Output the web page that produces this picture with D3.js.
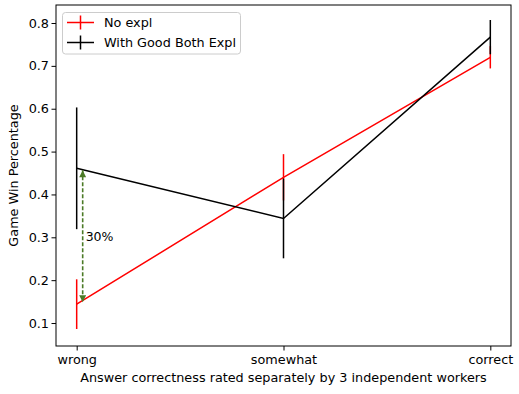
<!DOCTYPE html>
<html><head><meta charset="utf-8">
<script src="https://cdn.jsdelivr.net/npm/d3@7"></script>
<style>body{margin:0;background:#fff}svg{display:block}text{font-family:"DejaVu Sans",sans-serif}</style>
</head><body>
<script>
const categories = ["wrong", "somewhat", "correct"];
const seriesNames = ["No expl", "With Good Both Expl"];
const seriesColors = ["#ff0000", "#000000"];
const noExplValues = [0.144, 0.440, 0.720];
const noExplErrors = [0.058, 0.054, 0.026];
const goodExplValues = [0.461, 0.344, 0.767];
const goodExplErrors = [0.142, 0.093, 0.040];
const yTicks = [0.1, 0.2, 0.3, 0.4, 0.5, 0.6, 0.7, 0.8];
const annotationText = "30%";

const W = 519, H = 394;
const m = {left: 56, right: 8, top: 5, bottom: 48};
const svg = d3.select("body").append("svg").attr("width", W).attr("height", H);
const x = d3.scaleLinear().domain([-0.1, 2.1]).range([m.left, W - m.right]);
const y = d3.scaleLinear().domain([0.0464, 0.842]).range([H - m.bottom, m.top]);
const fs = 12.8;

const series = [
  {name: seriesNames[0], color: seriesColors[0], v: noExplValues, e: noExplErrors},
  {name: seriesNames[1], color: seriesColors[1], v: goodExplValues, e: goodExplErrors}
];

const g = svg.append("g");
series.forEach(s => {
  const pts = s.v.map((v, i) => ({i, v, e: s.e[i]}));
  g.append("path").datum(pts)
    .attr("d", d3.line().x(d => x(d.i)).y(d => y(d.v)))
    .attr("fill", "none").attr("stroke", s.color).attr("stroke-width", 1.5);
  g.selectAll(null).data(pts).enter().append("line")
    .attr("x1", d => x(d.i)).attr("x2", d => x(d.i))
    .attr("y1", d => y(d.v - d.e)).attr("y2", d => y(d.v + d.e))
    .attr("stroke", s.color).attr("stroke-width", 1.5);
});

// annotation arrow
const green = "#4b7a26";
const ax = x(0) + 6;
const y1 = y(goodExplValues[0]) + 2, y2 = y(noExplValues[0]) - 2;
const defs = svg.append("defs");
defs.append("marker").attr("id", "ah").attr("viewBox", "0 0 10 10").attr("refX", 10).attr("refY", 5)
  .attr("markerUnits", "userSpaceOnUse").attr("markerWidth", 9).attr("markerHeight", 7).attr("orient", "auto-start-reverse")
  .append("path").attr("d", "M0,0 L10,5 L0,10 Z").attr("fill", green);
svg.append("line").attr("x1", ax).attr("x2", ax).attr("y1", y1).attr("y2", y2)
  .attr("stroke", green).attr("stroke-width", 1.6).attr("stroke-dasharray", "4,2")
  .attr("marker-start", "url(#ah)").attr("marker-end", "url(#ah)");
svg.append("text").attr("x", ax + 3).attr("y", (y1 + y2) / 2 + 5)
  .attr("font-size", 12.5).attr("fill", "#000")
  .text(annotationText);

// axes
const xAxis = svg.append("g").attr("transform", `translate(0,${H - m.bottom})`)
  .call(d3.axisBottom(x).tickValues([0, 1, 2]).tickFormat(i => categories[i]).tickSize(4.5).tickSizeOuter(0));
const yAxis = svg.append("g").attr("transform", `translate(${m.left},0)`)
  .call(d3.axisLeft(y).tickValues(yTicks).tickFormat(d3.format(".1f")).tickSize(4.5).tickSizeOuter(0));
[xAxis, yAxis].forEach(a => {
  a.select(".domain").remove();
  a.selectAll("text").attr("font-size", fs).attr("font-family", "DejaVu Sans").attr("fill", "#000");
  a.selectAll("line").attr("stroke", "#000").attr("stroke-width", 1);
});
xAxis.selectAll("text").attr("dy", "0.85em").attr("y", 7);
yAxis.selectAll("text").attr("x", -7);
svg.append("rect").attr("x", m.left).attr("y", m.top)
  .attr("width", W - m.right - m.left).attr("height", H - m.bottom - m.top)
  .attr("fill", "none").attr("stroke", "#000").attr("stroke-width", 1);

svg.append("text").attr("x", (m.left + W - m.right) / 2).attr("y", 382)
  .attr("text-anchor", "middle").attr("font-size", fs).text("Answer correctness rated separately by 3 independent workers");
svg.append("text").attr("transform", `translate(18,${(m.top + H - m.bottom) / 2}) rotate(-90)`)
  .attr("text-anchor", "middle").attr("font-size", fs).text("Game Win Percentage");

// legend
const lg = svg.append("g");
lg.append("rect").attr("x", 62.5).attr("y", 12.5).attr("width", 178).attr("height", 41.5).attr("rx", 3)
  .attr("fill", "#fff").attr("fill-opacity", 0.8).attr("stroke", "#ccc").attr("stroke-width", 1);
series.forEach((s, i) => {
  const cy = 22.5 + i * 20;
  lg.append("line").attr("x1", 67).attr("x2", 94).attr("y1", cy).attr("y2", cy).attr("stroke", s.color).attr("stroke-width", 1.5);
  lg.append("line").attr("x1", 80.5).attr("x2", 80.5).attr("y1", cy - 7).attr("y2", cy + 7).attr("stroke", s.color).attr("stroke-width", 1.5);
  lg.append("text").attr("x", 104).attr("y", cy + 4.5).attr("font-size", fs).text(s.name);
});
</script>
</body></html>
